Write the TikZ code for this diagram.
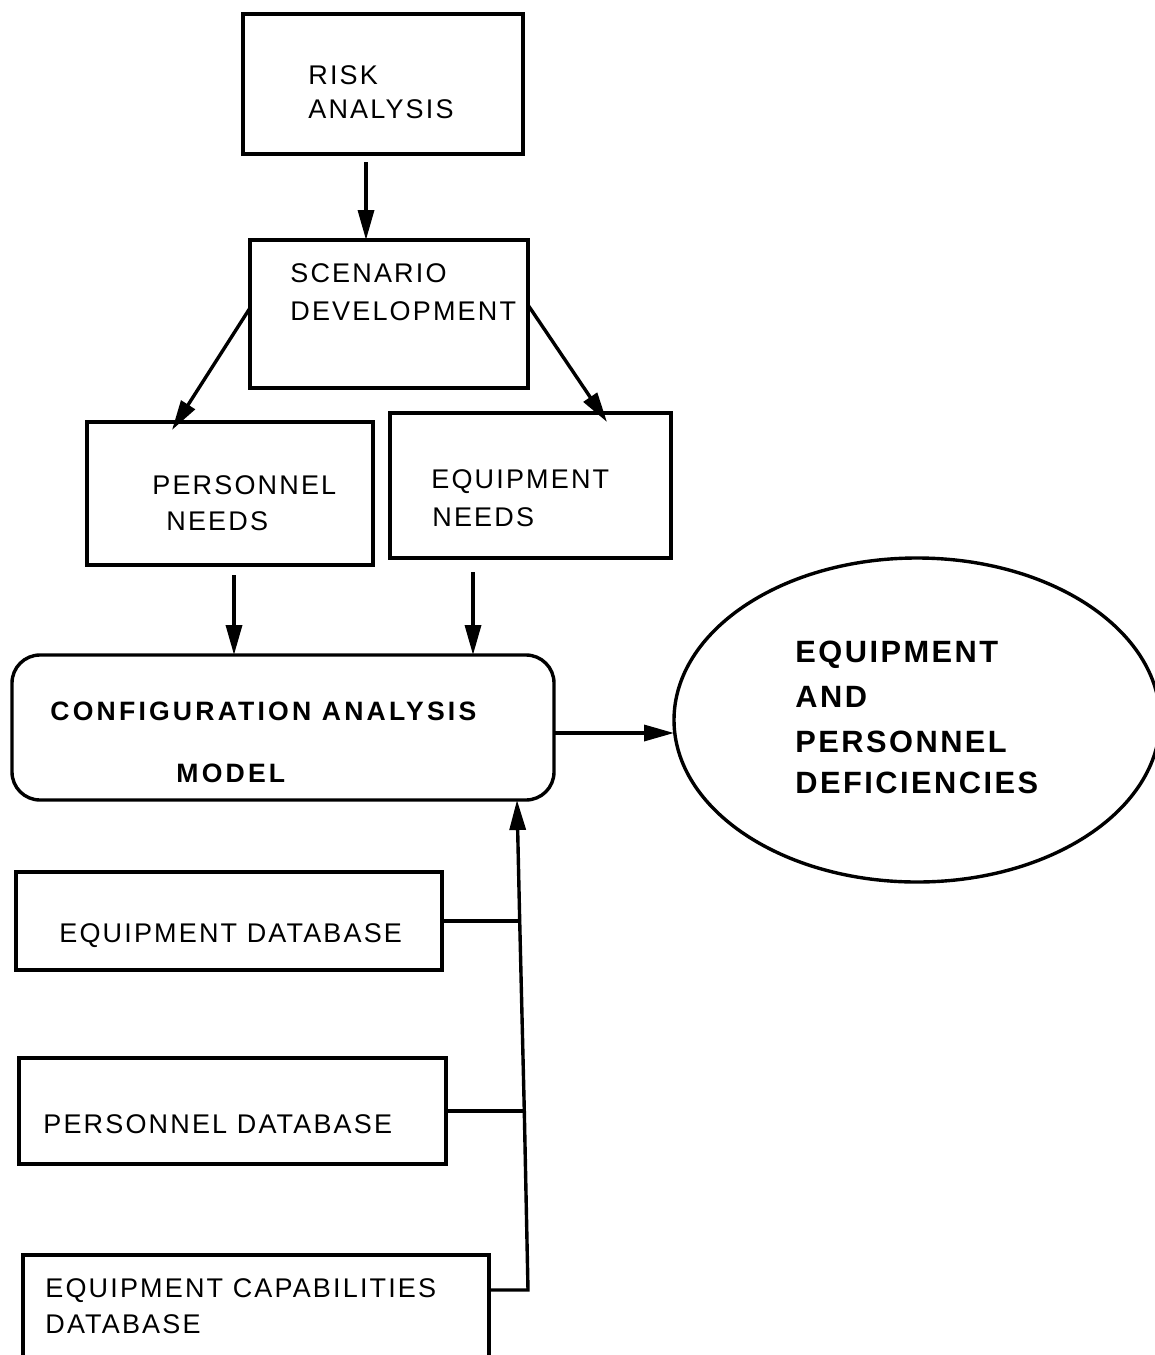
\documentclass[tikz,border=0pt]{standalone}
\usepackage{fontspec}
\usetikzlibrary{arrows.meta,shapes.geometric}
\newfontfamily\lab{Liberation Sans}[LetterSpace=8]
\newfontfamily\labcfg{Liberation Sans Bold}[LetterSpace=12]
\newfontfamily\labbold{Liberation Sans Bold}[LetterSpace=8]
\begin{document}
\begin{tikzpicture}[x=0.5pt,y=-0.5pt,
  box/.style={draw, line width=1.7pt, inner sep=0pt, outer sep=0pt},
  lbl/.style={anchor=base west, inner sep=0pt, font=\lab\fontsize{13.5}{16}\selectfont},
  cfg/.style={anchor=base west, inner sep=0pt, font=\labcfg\fontsize{13.3}{16}\selectfont},
  big/.style={anchor=base west, inner sep=0pt, font=\labbold\fontsize{15.4}{18}\selectfont},
  arr/.style={line width=1.7pt, -{Triangle[length=15pt,width=8pt]}},
  con/.style={line width=1.7pt}]
\useasboundingbox (0,0) rectangle (1155,1355);

% boxes
\node[box, minimum width=140pt, minimum height=70pt] (risk) at (383,84) {};
\node[box, minimum width=139pt, minimum height=74pt] (scen) at (389,314) {};
\node[box, minimum width=143pt, minimum height=71.5pt] (pers) at (230,493.5) {};
\node[box, minimum width=140.5pt, minimum height=72.5pt] (equip) at (530.5,485.5) {};
\node[box, rounded corners=14pt, minimum width=271pt, minimum height=72.5pt] (cam) at (283,727.5) {};
\node[box, ellipse, minimum width=243pt, minimum height=162pt] (ell) at (917,720) {};
\node[box, minimum width=213pt, minimum height=49pt] (eqdb) at (229,921) {};
\node[box, minimum width=213.5pt, minimum height=53pt] (pdb) at (232.5,1111) {};
\node[box, minimum width=233pt, minimum height=60pt] (ecdb) at (256,1315) {};

% labels
\node[lbl] (t-risk1) at (308,84) {RISK};
\node[lbl] (t-risk2) at (308,118) {ANALYSIS};
\node[lbl] (t-scen1) at (290,282) {SCENARIO};
\node[lbl] (t-scen2) at (290,320) {DEVELOPMENT};
\node[lbl] (t-pers1) at (152,494) {PERSONNEL};
\node[lbl] (t-pers2) at (166,530) {NEEDS};
\node[lbl] (t-eq1) at (431,488) {EQUIPMENT};
\node[lbl] (t-eq2) at (432,526) {NEEDS};
\node[cfg] (t-cam1) at (50,720) {CONFIGURATION ANALYSIS};
\node[cfg] (t-cam2) at (176,782) {MODEL};
\node[big] (t-ell1) at (795,662) {EQUIPMENT};
\node[big] (t-ell2) at (795,707) {AND};
\node[big] (t-ell3) at (795,752) {PERSONNEL};
\node[big] (t-ell4) at (795,793) {DEFICIENCIES};
\node[lbl] (t-eqdb) at (59,942) {EQUIPMENT DATABASE};
\node[lbl] (t-pdb) at (43,1133) {PERSONNEL DATABASE};
\node[lbl] (t-ecdb1) at (45,1297) {EQUIPMENT CAPABILITIES};
\node[lbl] (t-ecdb2) at (45,1333) {DATABASE};

% connector helper coordinates
\coordinate (a1) at (366,162);
\coordinate (tl) at (172,430);
\coordinate (tr) at (607,422);
\coordinate (d1) at (234,575);
\coordinate (d2) at (473,572);
\coordinate (c3) at (554,733);
\coordinate (j1) at (519.7,921);
\coordinate (j2) at (524.3,1111);
\coordinate (j3) at (528,1290);
\coordinate (jx) at (517,0);

% connectors
\draw[arr] (a1) -- (a1 |- scen.north);
\draw[arr] ([yshift=3pt]scen.west) -- (tl);
\draw[arr] ([yshift=4.5pt]scen.east) -- (tr);
\draw[arr] (d1) -- (d1 |- cam.north);
\draw[arr] (d2) -- (d2 |- cam.north);
\draw[arr] (c3) -- (c3 -| ell.west);
\draw[con] (eqdb.east) -- (j1);
\draw[con] (pdb.east) -- (j2);
\draw[con, line join=miter] (ecdb.east |- j3) -- (j3) -- (j2) -- (j1);
\draw[arr] (j1) -- (jx |- cam.south);
\end{tikzpicture}
\end{document}
